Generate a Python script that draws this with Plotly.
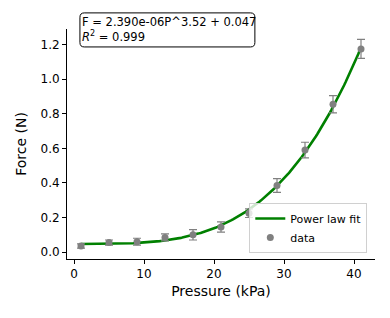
import numpy as np
import plotly.graph_objects as go

pressure = [1, 5, 9, 13, 17, 21, 25, 29, 33, 37, 41]
force = [0.035, 0.055, 0.060, 0.085, 0.100, 0.145, 0.225, 0.385, 0.590, 0.855, 1.175]
force_err = [0.012, 0.015, 0.020, 0.020, 0.030, 0.030, 0.025, 0.040, 0.045, 0.050, 0.055]

fit_a = 2.390e-06
fit_b = 3.52
fit_c = 0.047
r_squared = 0.999

p_fit = np.linspace(min(pressure), max(pressure), 200)
f_fit = fit_a * p_fit ** fit_b + fit_c

font = "DejaVu Sans"

fig = go.Figure()
fig.add_trace(go.Scatter(
    x=p_fit, y=f_fit, mode="lines", name="Power law fit",
    line=dict(color="#008000", width=2.6),
))
fig.add_trace(go.Scatter(
    x=pressure, y=force, mode="markers", name="data",
    marker=dict(color="#808080", size=7),
    error_y=dict(type="data", array=force_err, visible=True,
                 color="#808080", thickness=1.2, width=4),
))

fig.update_layout(
    width=390, height=318,
    margin=dict(l=67, r=15, t=29, b=59),
    paper_bgcolor="white", plot_bgcolor="white",
    font=dict(family=font, size=12, color="black"),
    showlegend=True,
    legend=dict(x=0.975, y=0.026, xanchor="right", yanchor="bottom",
                bgcolor="rgba(255,255,255,0.8)", bordercolor="#d0d0d0",
                borderwidth=1, font=dict(size=11), tracegroupgap=0,
                itemwidth=30),
    xaxis=dict(
        range=[-1, 43], tickvals=[0, 10, 20, 30, 40],
        showgrid=False, zeroline=False, showline=True, linecolor="black",
        linewidth=1, ticks="outside", ticklen=4, tickcolor="black",
        tickfont=dict(size=12),
        title=dict(text="Pressure (kPa)", font=dict(size=14), standoff=5),
    ),
    yaxis=dict(
        range=[-0.04, 1.29], tickvals=[0, 0.2, 0.4, 0.6, 0.8, 1.0, 1.2],
        tickformat=".1f",
        showgrid=False, zeroline=False, showline=True, linecolor="black",
        linewidth=1, ticks="outside", ticklen=4, tickcolor="black",
        tickfont=dict(size=12),
        title=dict(text="Force (N)", font=dict(size=14), standoff=10),
    ),
)

# rounded text box (paper coordinates)
bx0, bx1, by0, by1 = 0.042, 0.610, 0.922, 1.070
rx, ry = 0.014, 0.019
path = (f"M {bx0+rx},{by1} L {bx1-rx},{by1} Q {bx1},{by1} {bx1},{by1-ry} "
        f"L {bx1},{by0+ry} Q {bx1},{by0} {bx1-rx},{by0} "
        f"L {bx0+rx},{by0} Q {bx0},{by0} {bx0},{by0+ry} "
        f"L {bx0},{by1-ry} Q {bx0},{by1} {bx0+rx},{by1} Z")
fig.add_shape(type="path", xref="paper", yref="paper", path=path,
              line=dict(color="black", width=1), fillcolor="white", layer="above")

fig.add_annotation(
    xref="paper", yref="paper", x=0.045, y=1.066,
    xanchor="left", yanchor="top", align="left", showarrow=False,
    text=f"F = {fit_a:.3e}P^{fit_b:.2f} + {fit_c:.3f}<br><i>R</i><sup>2</sup> = {r_squared:.3f}",
    font=dict(size=11.5, family=font),
    borderpad=0,
)

fig.write_html("out.html", config={"displayModeBar": False},
               post_script="document.body.style.margin='0';")
